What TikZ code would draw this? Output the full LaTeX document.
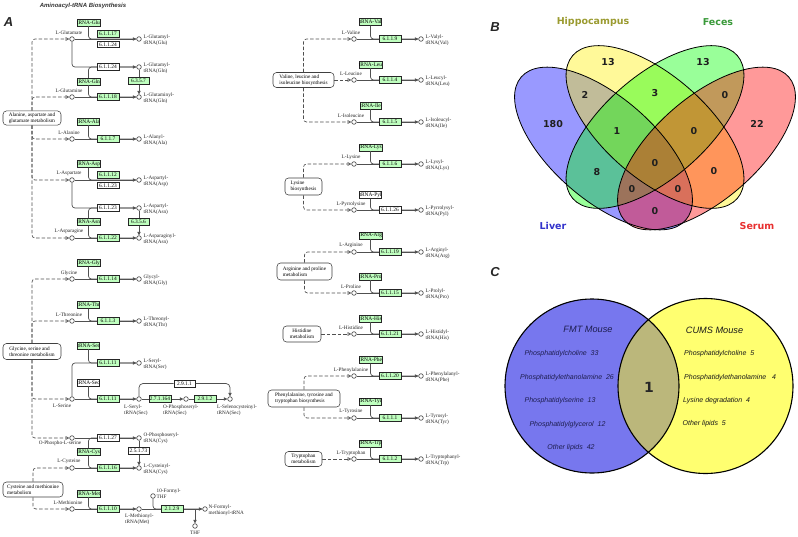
\documentclass[tikz,border=0pt]{standalone}
\usepackage{fontspec}
\setmainfont{Liberation Serif}
\newfontfamily\dvs{DejaVu Sans}
\newfontfamily\lsans{Liberation Sans}
\usetikzlibrary{arrows.meta}
\newcommand\kf{\fontsize{5.2}{6.2}\selectfont}
\newcommand\ef{\fontsize{5.4}{6}\selectfont}
\newcommand\vbf{\dvs\bfseries\fontsize{9.5}{11}\selectfont}
\newcommand\vcf{\lsans\itshape\fontsize{7}{8}\selectfont}
\newcommand\vch{\lsans\itshape\fontsize{9.2}{10}\selectfont}
\definecolor{kgreen}{HTML}{BFFFBF}
\definecolor{kline}{HTML}{505050}
\definecolor{vcblue}{HTML}{7777EE}
\definecolor{vcyel}{HTML}{FFFF70}
\definecolor{vclens}{HTML}{BBB77B}
\definecolor{hipcol}{HTML}{9B9B30}
\definecolor{feccol}{HTML}{3A9A3A}
\definecolor{livcol}{HTML}{3333CC}
\definecolor{sercol}{HTML}{E83030}
\definecolor{navyt}{HTML}{1E1E50}
\tikzset{
 rx/.style={draw=kline, line width=0.7pt},
 rarr/.style={-{Triangle[length=3.4pt,width=3.2pt]}},
 oarr/.style={-{Triangle[open,length=3.8pt,width=3.6pt]}},
 dsh/.style={draw=kline, line width=0.65pt, dash pattern=on 3.5pt off 2pt},
 cpd/.style={circle, draw=kline, fill=white, line width=0.65pt, minimum size=4.6pt, inner sep=0pt},
 lbl/.style={font=\kf, inner sep=0pt, align=left, text=black!85},
 enz/.style={draw=black!85, fill=kgreen, line width=0.5pt, minimum width=21.5pt, minimum height=6.8pt, inner sep=0pt, font=\ef},
 enzw/.style={enz, fill=white},
 trna/.style={enz},
 trnaw/.style={enzw},
 mapbox/.style={draw=black!75, fill=white, line width=0.55pt, rounded corners=3.5pt, font=\kf, align=left, inner xsep=2.5pt, inner ysep=1.6pt},
 plet/.style={font=\lsans\bfseries\itshape\fontsize{13}{15}\selectfont, text=black!85, inner sep=0pt},
 vnum/.style={font=\vbf, text=black!88, inner sep=0pt},
 vitem/.style={font=\vcf, inner sep=0pt},
 vline/.style={draw=black, line width=0.8pt},
}
% #1 name, #2 line y, #3 compound, #4 tRNA y, #5 tRNA text, #6 tRNA style, #7 enzyme, #8 enzyme style, #9 product
\newcommand{\aablock}[9]{%
  \node[cpd] (#1c) at (72,#2) {};
  \node[lbl] (#1l) at (69,#2-6.2) {#3};
  \node[cpd] (#1p) at (139,#2) {};
  \node[lbl,anchor=west] (#1pl) at (143.5,#2+1) {#9};
  \draw[rx,rarr] (#1c) -- (#1p);
  \node[#6] (#1t) at (88.5,#4) {#5};
  \draw[rx,rounded corners=3pt] (#1t.south) |- (#1p.west);
  \node[#8] (#1e) at (108,#2) {#7};
}
\begin{document}
\begin{tikzpicture}[x=1pt,y=-1pt]
\useasboundingbox (0,0) rectangle (798,536);
\fill[white] (0,0) rectangle (798,536);

\node[font=\lsans\bfseries\itshape\fontsize{6}{7}\selectfont, text=black!80] (title) at (83,5.5) {Aminoacyl-tRNA Biosynthesis};
\node[plet] (pA) at (8.5,22) {A};
\node[plet] (pB) at (495,27) {B};
\node[plet] (pC) at (495,272) {C};

% ---------- left column ----------
% Glu
\node[cpd] (gluc) at (72,39) {};
\node[lbl] (glul) at (69,32.8) {L-Glutamate};
\node[cpd] (glup) at (139,39) {};
\node[lbl,anchor=west] (glupl) at (143.5,40) {L-Glutamyl-\\tRNA(Glu)};
\draw[rx,rarr] (gluc) -- (glup);
\node[trna] (glut) at (88.5,22.5) {tRNA-Glu};
\draw[rx,rounded corners=3pt] (glut.south) |- (glup.west);
\node[enz] (glue1) at (108,34) {6.1.1.17};
\node[enzw] (glue2) at (108,44.3) {6.1.1.24};
% Glu-tRNA(Gln)
\node[cpd] (gqp) at (139,67) {};
\node[lbl,anchor=west] (gqpl) at (143.5,68) {L-Glutamyl-\\tRNA(Gln)};
\draw[rx,rarr,rounded corners=3pt] (gluc.south) |- (gqp.west);
% Gln
\node[cpd] (glnc) at (72,97) {};
\node[lbl] (glnl) at (69,90.8) {L-Glutamine};
\node[cpd] (glnp) at (139,97) {};
\node[lbl,anchor=west] (glnpl) at (143.5,98.5) {L-Glutaminyl-\\tRNA(Gln)};
\draw[rx,rarr] (glnc) -- (glnp);
\node[trna] (glnt) at (88.5,81.5) {tRNA-Gln};
\draw[rx,rounded corners=3pt] (glnt.north) |- (gqp.west);
\draw[rx,rounded corners=3pt] (glnt.south) |- (glnp.west);
\draw[rx,rarr] (gqp) -- (glnp);
\node[enzw] (gqe) at (108,67) {6.1.1.24};
\node[enz] (glne) at (108,97) {6.1.1.18};
\node[enz] (amid1) at (138.5,80.5) {6.3.5.7};
% Ala
\aablock{ala}{139}{L-Alanine}{121.5}{tRNA-Ala}{trna}{6.1.1.7}{enz}{L-Alanyl-\\tRNA(Ala)}
% Asp
\node[cpd] (aspc) at (72,180) {};
\node[lbl] (aspl) at (69,173.8) {L-Aspartate};
\node[cpd] (aspp) at (139,180) {};
\node[lbl,anchor=west] (asppl) at (143.5,181.5) {L-Aspartyl-\\tRNA(Asp)};
\draw[rx,rarr] (aspc) -- (aspp);
\node[trna] (aspt) at (88.5,164) {tRNA-Asp};
\draw[rx,rounded corners=3pt] (aspt.south) |- (aspp.west);
\node[enz] (aspe1) at (108,175) {6.1.1.12};
\node[enzw] (aspe2) at (108,185.3) {6.1.1.23};
% Asp-tRNA(Asn)
\node[cpd] (anp) at (139,208) {};
\node[lbl,anchor=west] (anpl) at (143.5,209) {L-Aspartyl-\\tRNA(Asn)};
\draw[rx,rarr,rounded corners=3pt] (aspc.south) |- (anp.west);
% Asn
\node[cpd] (asnc) at (72,238) {};
\node[lbl] (asnl) at (69,231.8) {L-Asparagine};
\node[cpd] (asnp) at (139,238) {};
\node[lbl,anchor=west] (asnpl) at (143.5,239.5) {L-Asparaginyl-\\tRNA(Asn)};
\draw[rx,rarr] (asnc) -- (asnp);
\node[trna] (asnt) at (88.5,222) {tRNA-Asn};
\draw[rx,rounded corners=3pt] (asnt.north) |- (anp.west);
\draw[rx,rounded corners=3pt] (asnt.south) |- (asnp.west);
\draw[rx,rarr] (anp) -- (asnp);
\node[enzw] (ane) at (108,208) {6.1.1.23};
\node[enz] (asne) at (108,238) {6.1.1.22};
\node[enz] (amid2) at (138.5,222) {6.3.5.6};
% Gly, Thr
\aablock{gly}{279}{Glycine}{263}{tRNA-Gly}{trna}{6.1.1.14}{enz}{Glycyl-\\tRNA(Gly)}
\aablock{thr}{321}{L-Threonine}{305}{tRNA-Thr}{trna}{6.1.1.3}{enz}{L-Threonyl-\\tRNA(Thr)}
% Ser / Sec
\node[cpd] (serc) at (72,399) {};
\node[lbl] (serl) at (62,405.5) {L-Serine};
\node[cpd] (sersec) at (139,399) {};
\draw[rx,rarr] (serc) -- (sersec);
\node[trnaw] (sect) at (88.5,382.5) {tRNA-Sec};
\draw[rx,rounded corners=3pt] (sect.south) |- (sersec.west);
\node[enz] (sere2) at (108,399) {6.1.1.11};
\node[cpd] (serp) at (139,363) {};
\draw[rx,rarr,rounded corners=3pt] (serc.north) |- (serp.west);
\node[trna] (sert) at (88.5,345.5) {tRNA-Ser};
\draw[rx,rounded corners=3pt] (sert.south) |- (serp.west);
\node[enz] (sere1) at (108,363) {6.1.1.11};
\node[lbl,anchor=west] (serpl) at (143.5,364) {L-Seryl-\\tRNA(Ser)};
\node[lbl,anchor=north west] (sersecl) at (124,404.5) {L-Seryl-\\tRNA(Sec)};
\node[cpd] (psec) at (186,399) {};
\node[lbl,anchor=north west] (psecl) at (163,404.5) {O-Phosphoseryl-\\tRNA(Sec)};
\node[cpd] (secc) at (230,399) {};
\node[lbl,anchor=north west] (seccl) at (217,404.5) {L-Selenocysteinyl-\\tRNA(Sec)};
\draw[rx,rarr] (sersec) -- (psec);
\draw[rx,rarr] (psec) -- (secc);
\node[enz] (ek) at (160,399) {2.7.1.164};
\node[enz] (es2) at (205,399) {2.9.1.2};
\node[enzw] (es1) at (184.5,383.5) {2.9.1.1};
\draw[rx,rounded corners=4pt] (sersec.north) |- (es1.west);
\draw[rx,rarr,rounded corners=4pt] (es1.east) -| (secc.north);
% Cys
\node[cpd] (opsc) at (72,438) {};
\node[lbl] (opsl) at (60,443.5) {O-Phospho-L-serine};
\node[cpd] (opsp) at (139,438) {};
\node[lbl,anchor=west] (opspl) at (143.5,438) {O-Phosphoseryl-\\tRNA(Cys)};
\draw[rx,rarr] (opsc) -- (opsp);
\node[cpd] (cysc) at (72,468) {};
\node[lbl] (cysl) at (69,461.5) {L-Cysteine};
\node[cpd] (cysp) at (139,468) {};
\node[lbl,anchor=west] (cyspl) at (143.5,469.5) {L-Cysteinyl-\\tRNA(Cys)};
\draw[rx,rarr] (cysc) -- (cysp);
\node[trna] (cyst) at (88.5,452) {tRNA-Cys};
\draw[rx,rounded corners=3pt] (cyst.north) |- (opsp.west);
\draw[rx,rounded corners=3pt] (cyst.south) |- (cysp.west);
\draw[rx,rarr] (opsp) -- (cysp);
\node[enzw] (opse) at (108,438) {6.1.1.27};
\node[enz] (cyse) at (108,468) {6.1.1.16};
\node[enzw] (sepe) at (138.5,450.5) {2.5.1.73};
% Met
\node[cpd] (metc) at (72,509) {};
\node[lbl] (metl) at (68,503) {L-Methionine};
\node[cpd] (metp) at (139,509) {};
\draw[rx,rarr] (metc) -- (metp);
\node[trna] (mett) at (88.5,493.5) {tRNA-Met};
\draw[rx,rounded corners=3pt] (mett.south) |- (metp.west);
\node[enz] (mete) at (108,509) {6.1.1.10};
\node[lbl,anchor=north west] (metpl) at (125,513.5) {L-Methionyl-\\tRNA(Met)};
\node[cpd] (fthf) at (153,496) {};
\node[lbl,anchor=west] (fthfl) at (156.5,494) {10-Formyl-\\THF};
\node[cpd] (fmet) at (205,509) {};
\node[lbl,anchor=west] (fmetl) at (208.5,510.5) {N-Formyl-\\methionyl-tRNA};
\node[cpd] (thf) at (195,526) {};
\node[lbl] (thfl) at (195,532.5) {THF};
\coordinate (thfj) at (195,509);
\draw[rx,rarr] (metp) -- (fmet);
\draw[rx,rounded corners=3pt] (fthf.south) |- (fmet.west);
\draw[rx,rarr] (thfj) -- (thf.north);
\node[enz] (fmte) at (172,509) {2.1.2.9};
% map boxes left
\node[mapbox, minimum width=58pt, minimum height=14pt] (albox) at (32,118) {Alanine, aspartate and\\glutamate metabolism};
\draw[dsh,oarr,rounded corners=3pt] (albox.north) |- (gluc.west);
\draw[dsh,oarr,rounded corners=3pt] (albox.north) |- (glnc.west);
\draw[dsh,oarr,rounded corners=3pt] (albox.south) |- (alac.west);
\draw[dsh,oarr,rounded corners=3pt] (albox.south) |- (aspc.west);
\draw[dsh,oarr,rounded corners=3pt] (albox.south) |- (asnc.west);
\node[mapbox, minimum width=58pt, minimum height=16pt] (gsbox) at (32,351.5) {Glycine, serine and\\threonine metabolism};
\draw[dsh,oarr,rounded corners=3pt] (gsbox.north) |- (glyc.west);
\draw[dsh,oarr,rounded corners=3pt] (gsbox.north) |- (thrc.west);
\draw[dsh,oarr,rounded corners=3pt] (gsbox.south) |- (serc.west);
\draw[dsh,oarr,rounded corners=3pt] (gsbox.south) |- (opsc.west);
\node[mapbox, minimum width=60pt, minimum height=15pt] (cmbox) at (33,489.5) {Cysteine and methionine\\metabolism};
\draw[dsh,oarr,rounded corners=3pt] (cmbox.north) |- (cysc.west);
\draw[dsh,oarr,rounded corners=3pt] (cmbox.south) |- (metc.west);

% ---------- right column ----------
\begin{scope}[xshift=282pt]
\aablock{val}{39}{L-Valine}{22}{tRNA-Val}{trna}{6.1.1.9}{enz}{L-Valyl-\\tRNA(Val)}
\aablock{leu}{80}{L-Leucine}{64.5}{tRNA-Leu}{trna}{6.1.1.4}{enz}{L-Leucyl-\\tRNA(Leu)}
\aablock{ile}{122}{L-Isoleucine}{105.5}{tRNA-Ile}{trna}{6.1.1.5}{enz}{L-Isoleucyl-\\tRNA(Ile)}
\aablock{lys}{164}{L-Lysine}{147.5}{tRNA-Lys}{trna}{6.1.1.6}{enz}{L-Lysyl-\\tRNA(Lys)}
\aablock{pyl}{210}{L-Pyrrolysine}{195}{tRNA-Pyl}{trnaw}{6.1.1.26}{enzw}{L-Pyrrolysyl-\\tRNA(Pyl)}
\aablock{arg}{252}{L-Arginine}{235.5}{tRNA-Arg}{trna}{6.1.1.19}{enz}{L-Arginyl-\\tRNA(Arg)}
\aablock{pro}{293}{L-Proline}{276.5}{tRNA-Pro}{trna}{6.1.1.15}{enz}{L-Prolyl-\\tRNA(Pro)}
\aablock{his}{334}{L-Histidine}{318.5}{tRNA-His}{trna}{6.1.1.21}{enz}{L-Histidyl-\\tRNA(His)}
\aablock{phe}{376}{L-Phenylalanine}{360}{tRNA-Phe}{trna}{6.1.1.20}{enz}{L-Phenylalanyl-\\tRNA(Phe)}
\aablock{tyr}{418}{L-Tyrosine}{401.5}{tRNA-Tyr}{trna}{6.1.1.1}{enz}{L-Tyrosyl-\\tRNA(Tyr)}
\aablock{trp}{459}{L-Tryptophan}{443.5}{tRNA-Trp}{trna}{6.1.1.2}{enz}{L-Tryptophanyl-\\tRNA(Trp)}
\end{scope}
\node[mapbox, minimum width=61pt, minimum height=15pt] (vlbox) at (303.5,80) {Valine, leucine and\\isoleucine biosynthesis};
\draw[dsh,oarr,rounded corners=3pt] (vlbox.north) |- (valc.west);
\draw[dsh,oarr] (vlbox.east) -- (leuc.west);
\draw[dsh,oarr,rounded corners=3pt] (vlbox.south) |- (ilec.west);
\node[mapbox, minimum width=37pt, minimum height=17pt] (lybox) at (303.5,186.5) {Lysine\\biosynthesis};
\draw[dsh,oarr,rounded corners=3pt] (lybox.north) |- (lysc.west);
\draw[dsh,oarr,rounded corners=3pt] (lybox.south) |- (pylc.west);
\node[mapbox, minimum width=55pt, minimum height=17pt] (apbox) at (304.5,271.5) {Arginine and proline\\metabolism};
\draw[dsh,oarr,rounded corners=3pt] (apbox.north) |- (argc.west);
\draw[dsh,oarr,rounded corners=3pt] (apbox.south) |- (proc.west);
\node[mapbox, align=center, minimum width=38pt, minimum height=16pt] (hibox) at (302,334) {Histidine\\metabolism};
\draw[dsh,oarr] (hibox.east) -- (hisc.west);
\node[mapbox, minimum width=72pt, minimum height=17pt] (ptbox) at (304,398.5) {Phenylalanine, tyrosine and\\tryptophan biosynthesis};
\draw[dsh,oarr,rounded corners=3pt] (ptbox.north) |- (phec.west);
\draw[dsh,oarr,rounded corners=3pt] (ptbox.south) |- (tyrc.west);
\node[mapbox, align=center, minimum width=37pt, minimum height=15pt] (tmbox) at (303.5,459) {Tryptophan\\metabolism};
\draw[dsh,oarr] (tmbox.east) -- (trpc.west);

% ---------- Venn B ----------
\fill[blue, fill opacity=0.4, rotate around={-41:(603.5,148.5)}] (603.5,148.5) ellipse [x radius=109, y radius=51.4];
\fill[yellow, fill opacity=0.4, rotate around={-41:(655,127)}] (655,127) ellipse [x radius=109, y radius=51.4];
\fill[green, fill opacity=0.4, rotate around={41:(655,127)}] (655,127) ellipse [x radius=109, y radius=51.4];
\fill[red, fill opacity=0.4, rotate around={41:(706.5,148.5)}] (706.5,148.5) ellipse [x radius=109, y radius=51.4];
\draw[vline, rotate around={-41:(603.5,148.5)}] (603.5,148.5) ellipse [x radius=109, y radius=51.4];
\draw[vline, rotate around={-41:(655,127)}] (655,127) ellipse [x radius=109, y radius=51.4];
\draw[vline, rotate around={41:(655,127)}] (655,127) ellipse [x radius=109, y radius=51.4];
\draw[vline, rotate around={41:(706.5,148.5)}] (706.5,148.5) ellipse [x radius=109, y radius=51.4];
\node[font=\vbf, text=hipcol] (lhip) at (593,22) {Hippocampus};
\node[font=\vbf, text=feccol] (lfec) at (718,22) {Feces};
\node[font=\vbf, text=livcol] (lliv) at (553,226) {Liver};
\node[font=\vbf, text=sercol] (lser) at (757,226) {Serum};
\node[vnum] (n1) at (608,62) {13};
\node[vnum] (n2) at (703,62) {13};
\node[vnum] (n3) at (585,95) {2};
\node[vnum] (n4) at (655,93) {3};
\node[vnum] (n5) at (725,95) {0};
\node[vnum] (n6) at (553,124) {180};
\node[vnum] (n7) at (617,131) {1};
\node[vnum] (n8) at (694,131) {0};
\node[vnum] (n9) at (757,124) {22};
\node[vnum] (n10) at (597,172) {8};
\node[vnum] (n11) at (655,163) {0};
\node[vnum] (n12) at (714,171) {0};
\node[vnum] (n13) at (632,189) {0};
\node[vnum] (n14) at (678,189) {0};
\node[vnum] (n15) at (655,211) {0};

% ---------- Venn C ----------
\fill[vcblue] (592,386) circle [radius=87];
\fill[vcyel] (705.5,386) circle [radius=87.5];
\begin{scope}
\clip (592,386) circle [radius=87];
\fill[vclens] (705.5,386) circle [radius=87.5];
\end{scope}
\draw[draw=black, line width=1.1pt] (592,386) circle [radius=87];
\draw[draw=black, line width=1.1pt] (705.5,386) circle [radius=87.5];
\node[font=\vch, text=navyt, inner sep=0pt] (fmt) at (588,329) {FMT Mouse};
\node[font=\vch, text=black!90, inner sep=0pt] (cums) at (714.5,330) {CUMS Mouse};
\node[vitem, text=navyt] (f1) at (561.5,354) {Phosphatidylcholine~~33};
\node[vitem, text=navyt] (f2) at (567,378) {Phosphatidylethanolamine~~26};
\node[vitem, text=navyt] (f3) at (560,401) {Phosphatidylserine~~13};
\node[vitem, text=navyt] (f4) at (567.5,425) {Phosphatidylglycerol~~12};
\node[vitem, text=navyt] (f5) at (571,448) {Other lipids~~42};
\node[vitem, text=black!90, anchor=west] (c1) at (684,354) {Phosphatidylcholine~~5};
\node[vitem, text=black!90, anchor=west] (c2) at (684,378) {Phosphatidylethanolamine~~~4};
\node[vitem, text=black!90, anchor=west] (c3) at (683,401) {Lysine degradation~~4};
\node[vitem, text=black!90, anchor=west] (c4) at (682.5,424) {Other lipids~~5};
\node[font=\dvs\bfseries\fontsize{14}{16}\selectfont, text=black!85, inner sep=0pt] (one) at (649,387) {1};
\end{tikzpicture}
\end{document}
